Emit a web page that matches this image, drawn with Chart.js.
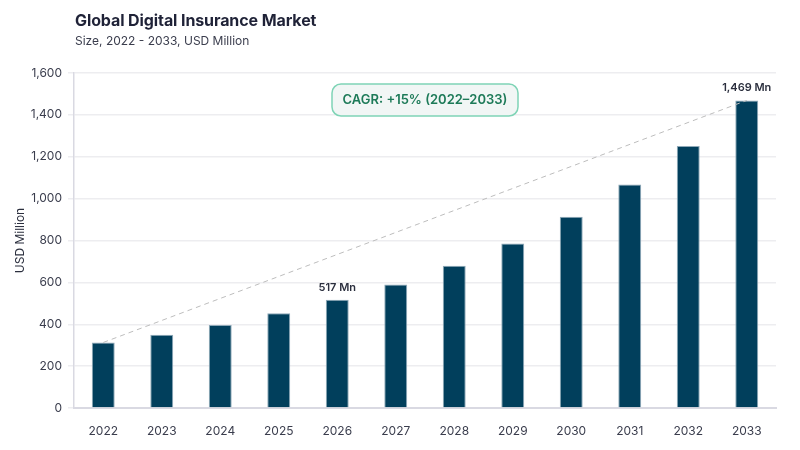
<!DOCTYPE html>
<html>
<head>
<meta charset="utf-8">
<script src="https://cdn.jsdelivr.net/npm/chart.js@4"></script>
<style>
  html, body { margin:0; padding:0; background:#fff; }
  #wrap { position:relative; width:800px; height:450px; }
  #title { position:absolute; left:75px; top:10px; font:700 16px Inter, sans-serif; color:#1f2237; letter-spacing:-0.1px; }
  #sub { position:absolute; left:75px; top:33px; font:400 12px Inter, sans-serif; color:#3a3d4d; }
  canvas { position:absolute; left:0; top:0; }
</style>
</head>
<body>
<div id="wrap">
  <canvas id="c" width="800" height="450"></canvas>
  <div id="title">Global Digital Insurance Market</div>
  <div id="sub">Size, 2022 - 2033, USD Million</div>
</div>
<script>
const categories = ['2022','2023','2024','2025','2026','2027','2028','2029','2030','2031','2032','2033'];
const marketSize = [313, 350, 396, 452, 517, 590, 679, 786, 914, 1067, 1251, 1469];
const trendLine = [313, null, null, null, null, null, null, null, null, null, null, 1469];
const labelledBars = { '2026': '517 Mn', '2033': '1,469 Mn' };
const cagrText = 'CAGR: +15% (2022–2033)';
const yAxisTitle = 'USD Million';

const annotations = {
  id: 'annotations',
  afterDatasetsDraw(chart) {
    const ctx = chart.ctx;
    const x = chart.scales.x, y = chart.scales.y;
    ctx.save();
    ctx.font = '600 11px Inter, sans-serif';
    ctx.fillStyle = '#2b2f3e';
    ctx.textAlign = 'center';
    ctx.textBaseline = 'bottom';
    categories.forEach((c, i) => {
      if (labelledBars[c]) {
        ctx.fillText(labelledBars[c], x.getPixelForValue(i), y.getPixelForValue(marketSize[i]) - 7);
      }
    });
    // CAGR box
    const bx = 332, by = 84, bw = 186, bh = 32, r = 9;
    ctx.beginPath();
    ctx.roundRect(bx, by, bw, bh, r);
    ctx.fillStyle = '#f1f6f5';
    ctx.fill();
    ctx.lineWidth = 1.5;
    ctx.strokeStyle = '#7fd4b6';
    ctx.stroke();
    ctx.fillStyle = '#1d7a58';
    ctx.font = '600 13px Inter, sans-serif';
    ctx.textBaseline = 'middle';
    ctx.fillText(cagrText, bx + bw / 2, by + bh / 2 + 0.5);
    ctx.restore();
  }
};

new Chart(document.getElementById('c'), {
  data: {
    labels: categories,
    datasets: [
      {
        type: 'line',
        data: trendLine,
        spanGaps: true,
        borderColor: '#bdbdbd',
        borderWidth: 1,
        borderDash: [5, 4],
        pointRadius: 0,
        fill: false,
        order: 0
      },
      {
        type: 'bar',
        data: marketSize,
        backgroundColor: '#013f5c',
        borderColor: '#8fa9b8',
        borderWidth: { top: 1, left: 1, right: 1, bottom: 0 },
        borderSkipped: false,
        barPercentage: 0.8,
        categoryPercentage: 0.49,
        order: 1
      }
    ]
  },
  options: {
    responsive: false,
    animation: false,
    devicePixelRatio: 1,
    layout: { padding: { left: 13, right: 24, top: 73, bottom: 0 } },
    plugins: { legend: { display: false }, tooltip: { enabled: false } },
    scales: {
      x: {
        grid: { display: false },
        border: { display: true, color: '#d9d9e2', width: 2 },
        ticks: { color: '#3a3d4d', font: { family: 'Inter', size: 12 }, padding: 8 },
        afterFit(s) { s.height = 42; }
      },
      y: {
        min: 0, max: 1600,
        ticks: {
          stepSize: 200,
          color: '#3a3d4d',
          font: { family: 'Inter', size: 12 },
          padding: 6,
          callback: v => v.toLocaleString('en-US')
        },
        grid: { color: '#ededf0', lineWidth: 1.5, drawTicks: true, tickLength: 6 },
        border: { display: true, color: '#d9d9e2', width: 1.5 },
        title: { display: true, text: yAxisTitle, color: '#2b2f3e', font: { family: 'Inter', size: 12 }, padding: { top: 0, bottom: 6 } },
        afterFit(s) { s.width = 61; }
      }
    }
  },
  plugins: [annotations]
});
</script>
</body>
</html>
